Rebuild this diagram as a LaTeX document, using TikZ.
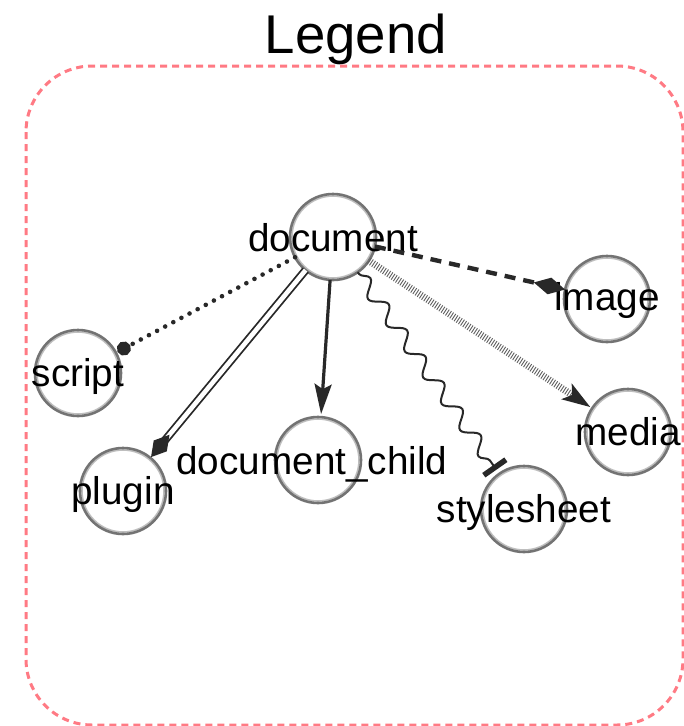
\documentclass[tikz,border=0pt]{standalone}
\usepackage{fontspec}
\setmainfont{Liberation Sans}
\usetikzlibrary{arrows.meta,decorations.pathmorphing}
\definecolor{edgec}{RGB}{40,40,40}
\definecolor{ringc}{RGB}{115,115,115}
\definecolor{ringl}{RGB}{190,190,190}
\definecolor{boxc}{RGB}{255,122,132}
\definecolor{hatchc}{RGB}{95,95,95}
\begin{document}
\begin{tikzpicture}[x=1pt,y=-1pt,
  nd/.style={circle, draw=ringc, line width=2.6pt, minimum size=86pt, inner sep=0pt, outer sep=0pt,
    path picture={\draw[ringl, line width=1.6pt] (path picture bounding box.center) circle (41pt);}},
  lbl/.style={text height=27pt, text depth=0pt, font=\fontsize{38.7}{46}\selectfont, inner sep=0pt, text=black},
  title/.style={anchor=base, font=\fontsize{54.6}{64}\selectfont, inner sep=0pt},
  legendbox/.style={draw=boxc, line width=3pt, dash pattern=on 7pt off 5pt, rounded corners=66pt},
  dotedge/.style={edgec, line width=4.6pt, line cap=round, dash pattern=on 0pt off 9.2pt, -{Circle[length=14pt 0 0]}, shorten >=2pt},
  dbledge/.style={edgec, line width=1.8pt, double=white, double distance=4.6pt, -{Diamond[length=29pt 0 0,width=17pt 0 0]}, shorten >=1pt},
  solidedge/.style={edgec, line width=3.2pt, -{Stealth[length=30pt 0 0,width=17pt 0 0,inset=5pt 0 0]}, shorten >=3pt},
  wavyedge/.style={edgec, line width=2pt, decorate, decoration={snake, amplitude=7pt, segment length=32pt, pre length=2pt, post length=6pt}, -{Bar[width=27pt 0 0, line width=5.5pt 0]}, shorten >=5pt},
  hatchedge/.style={hatchc, line width=7pt, dash pattern=on 0.9pt off 1.7pt, -{Stealth[length=28pt 0 0,width=18pt 0 0,inset=6pt 0 0,color=edgec]}, shorten >=2pt},
  dashedge/.style={edgec, line width=4.4pt, dash pattern=on 11pt off 8pt, -{Diamond[length=32pt 0 0,width=17pt 0 0]}}
]
\fill[white] (0,0) rectangle (684,726);
\useasboundingbox (0,0) rectangle (684,726);

\node[title] (legend) at (356,53) {Legend};
\draw[legendbox] (26,66) rectangle (683,725);

\node[nd, label={[lbl, yshift=-1pt]center:document}] (doc) at (333,237) {};
\node[nd, label={[lbl]center:script}] (script) at (78,373) {};
\node[nd, label={[lbl]center:plugin}] (plugin) at (123,491) {};
\node[nd, label={[lbl, xshift=-6pt, yshift=-1pt]center:document\_child}] (child) at (318,460) {};
\node[nd, label={[lbl]center:stylesheet}] (style) at (524,509) {};
\node[nd, label={[lbl]center:media}] (media) at (628,432) {};
\node[nd, label={[lbl, yshift=2pt]center:image}] (image) at (607,299) {};

\draw[dotedge] (doc) -- (script);
\draw[dbledge] (doc) -- (plugin);
\draw[solidedge] (doc) -- (child);
\draw[wavyedge] (doc) -- (style);
\draw[hatchedge] (doc) -- (media);
\draw[dashedge] (doc) -- (image);
\end{tikzpicture}
\end{document}
